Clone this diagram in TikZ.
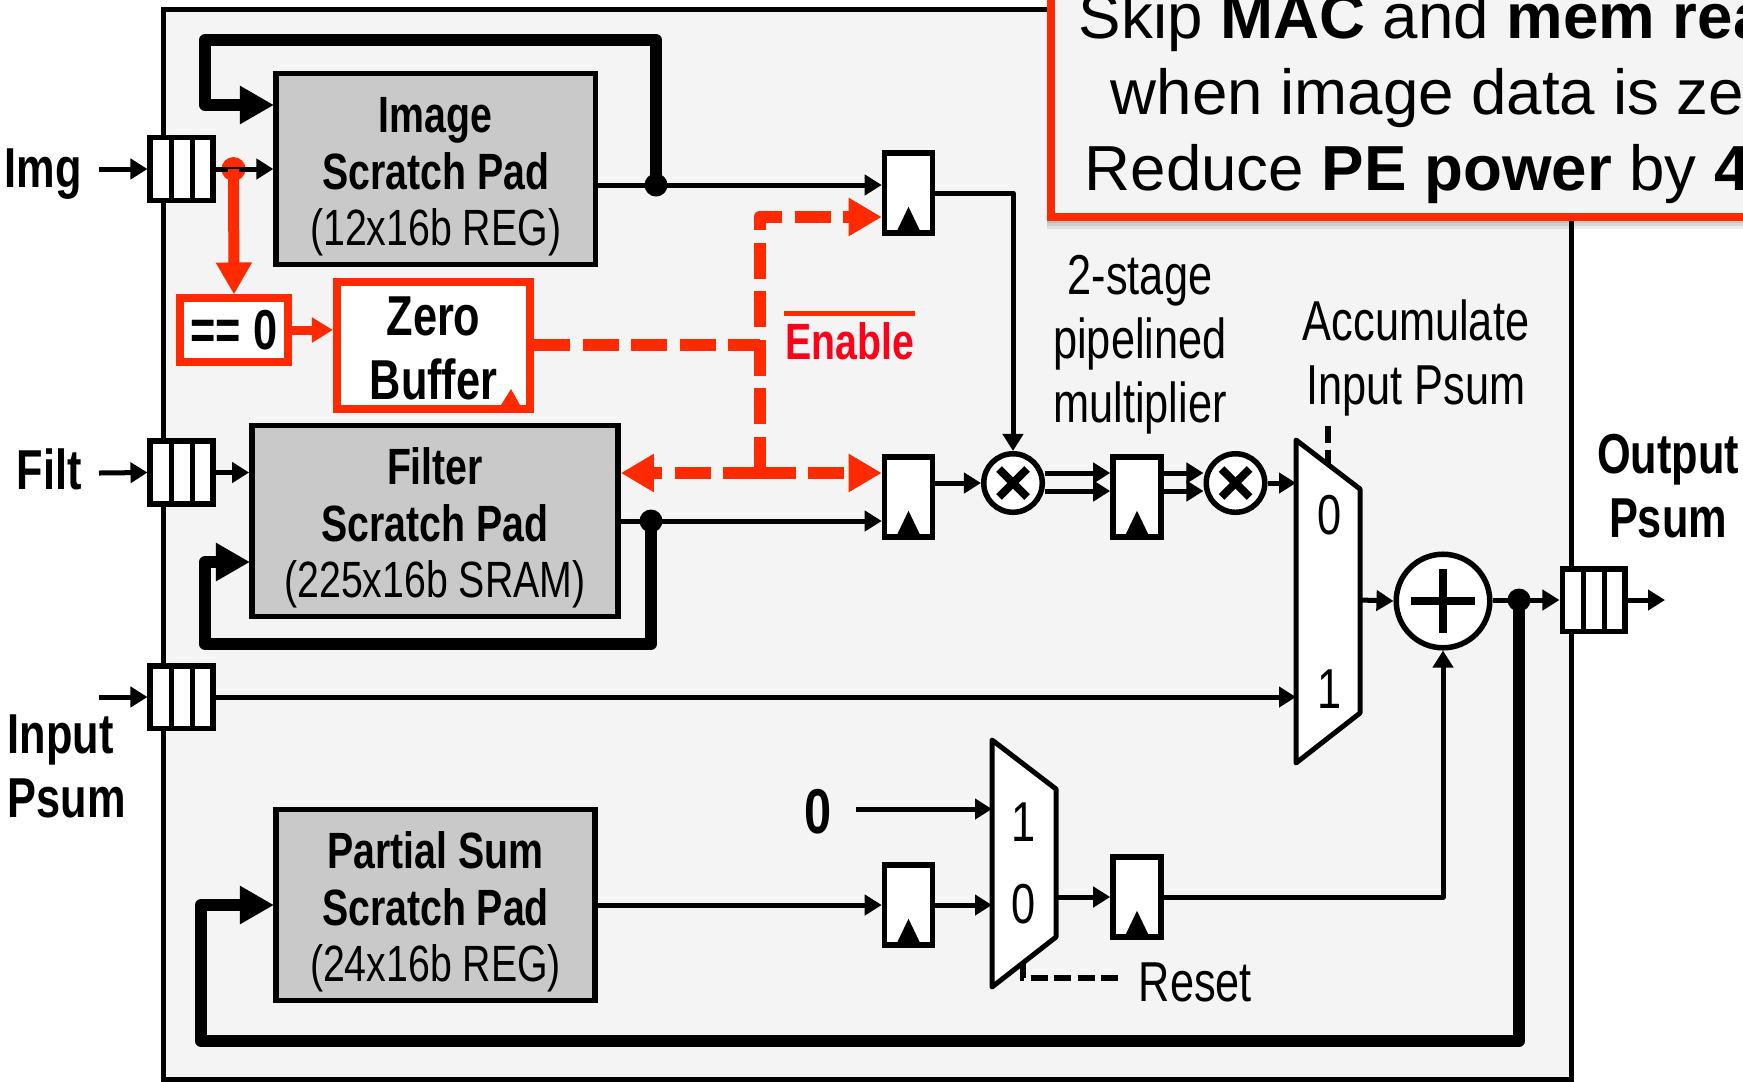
\documentclass[tikz,border=0pt]{standalone}
\usepackage{fontspec}
\setmainfont[FakeStretch=0.77]{Liberation Sans}
\newfontfamily\calloutfont{Liberation Sans}
\usepackage{xcolor}
\usetikzlibrary{arrows.meta, positioning, calc}

\definecolor{panelgray}{HTML}{F4F4F4}
\definecolor{boxgray}{HTML}{C9C9C9}
\definecolor{hotred}{HTML}{FF2A00}
\definecolor{enablered}{HTML}{FF0018}
\newcommand{\padtop}{\rule{0pt}{.51cm}}

\tikzset{
  labeltext/.style={inner sep=0pt, font=\fontsize{16}{18.2}\selectfont, align=center},
  padbox/.style={draw, line width=.055cm, fill=boxgray, align=center, inner sep=0pt,
    minimum height=1.91cm, font=\fontsize{14.5}{16}\selectfont},
  fifobox/.style={draw, line width=.055cm, fill=white, minimum width=.625cm, minimum height=.625cm, inner sep=0pt},
  regbox/.style={draw, line width=.055cm, fill=white, minimum width=.48cm, minimum height=.8cm, inner sep=0pt},
  opnode/.style={draw, circle, line width=.055cm, fill=white, inner sep=0pt},
  joint/.style={circle, fill=black, minimum size=.23cm, inner sep=0pt},
  wire/.style={line width=.05cm, line join=round, -{Triangle[length=.17cm,width=.2cm]}},
  busline/.style={line width=.12cm, line join=round, -{Triangle[length=.34cm,width=.36cm]}},
  redwire/.style={hotred, line width=.11cm, -{Triangle[length=.32cm,width=.34cm]}},
  ctrl/.style={hotred, line width=.12cm, dash pattern=on .36cm off .125cm, line join=round},
  ctrltip/.style={-{Triangle[length=.33cm,width=.36cm]}},
  sel/.style={line width=.055cm, dash pattern=on .17cm off .065cm},
  muxshape/.style={draw, line width=.05cm, fill=white, line join=round}
}

\begin{document}
\begin{tikzpicture}[x=.01cm, y=-.01cm]
  \clip (0,0) rectangle (1743,1081);
  % panel
  \draw[line width=.05cm, fill=panelgray] (163,9) rectangle (1571,1079);

  % scratch pads
  \node[padbox, minimum width=3.19cm] (imgPad) at (435.7,169) {\padtop\textbf{Image}\\\textbf{Scratch Pad}\\(12x16b REG)};
  \node[padbox, minimum width=3.66cm] (filtPad) at (435,521) {\padtop\textbf{Filter}\\\textbf{Scratch Pad}\\(225x16b SRAM)};
  \node[padbox, minimum width=3.19cm] (psumPad) at (435.5,905) {\padtop\textbf{Partial Sum}\\\textbf{Scratch Pad}\\(24x16b REG)};

  % fifos
  \node[fifobox] (fifoImg) at (181.5,169) {};
  \node[fifobox] (fifoFilt) at (181.5,472.5) {};
  \node[fifobox] (fifoIn) at (181.5,697) {};
  \node[fifobox] (fifoOut) at (1593.5,600) {};
  \foreach \fname in {fifoImg,fifoFilt,fifoIn,fifoOut} {
    \draw[line width=.05cm] ($(\fname.north)+(-10.5,0)$) -- ($(\fname.south)+(-10.5,0)$);
    \draw[line width=.05cm] ($(\fname.north)+(10.5,0)$) -- ($(\fname.south)+(10.5,0)$);
  }

  % registers
  \node[regbox] (regA) at (908.5,193) {};
  \node[regbox] (regB) at (908.5,497) {};
  \node[regbox] (regC) at (908.5,905) {};
  \node[regbox] (regD) at (1137,897) {};
  \node[regbox] (regE) at (1137,497) {};
  \foreach \rname in {regA,regB,regC,regD,regE}
    \fill ($(\rname.south)+(-11.5,-5)$) -- ($(\rname.south)+(11.5,-5)$) -- ($(\rname.south)+(0,-29)$) -- cycle;

  % muxes
  \coordinate (muxAtl) at (1296,440);
  \coordinate (muxAout) at (1360,600);
  \coordinate (muxBtl) at (992,740);
  \coordinate (muxBout) at (1056,897);
  \draw[sel] (1328,426) -- (1328,466);
  \draw[muxshape] (muxAtl) -- (1360,489) -- (1360,713) -- (1296,763) -- cycle;
  \draw[muxshape] (muxBtl) -- (1056,789) -- (1056,937) -- (992,987) -- cycle;
  \node[labeltext] (muxAzero) at (1329.5,515) {0};
  \node[labeltext] (muxAone) at (1329.5,689) {1};
  \node[labeltext] (muxBone) at (1024,822) {1};
  \node[labeltext] (muxBzero) at (1024,904) {0};

  % ops
  \node[opnode, minimum size=.585cm] (mulA) at (1013,483) {};
  \node[opnode, minimum size=.585cm] (mulB) at (1235.5,483) {};
  \node[opnode, minimum size=.935cm] (adder) at (1443,601) {};
  \foreach \mname in {mulA,mulB} {
    \draw[line width=.08cm] ($(\mname)+(-14,-14)$) -- ($(\mname)+(14,14)$);
    \draw[line width=.08cm] ($(\mname)+(-14,14)$) -- ($(\mname)+(14,-14)$);
  }
  \draw[line width=.08cm] ($(adder)+(-32,0)$) -- ($(adder)+(32,0)$);
  \draw[line width=.08cm] ($(adder)+(0,-32)$) -- ($(adder)+(0,32)$);

  % joints
  \node[joint] (dotImg) at (656,185) {};
  \node[joint] (dotFilt) at (651,521) {};
  \node[joint] (dotOut) at (1519,600) {};
  \node[joint, fill=hotred, minimum size=.24cm] (dotRed) at (233.5,169) {};

  % zero logic
  \node[draw=hotred, line width=.08cm, fill=white, minimum width=1.07cm, minimum height=.63cm, inner sep=0pt,
    font=\fontsize{16}{18}\selectfont\bfseries] (zeroTest) at (234,330) {== 0};
  \node[draw=hotred, line width=.08cm, fill=white, minimum width=1.93cm, minimum height=1.27cm, inner sep=0pt, align=center,
    font=\fontsize{16}{18.2}\selectfont\bfseries] (zeroBuf) at (433.5,345.5) {\rule{0pt}{.45cm}Zero\\Buffer};
  \fill[hotred] (501,405) -- (520,405) -- (511,389) -- cycle;

  % inputs
  \coordinate (inImg) at (99,169);
  \coordinate (inFilt) at (99,473);
  \coordinate (inPsum) at (99,697);
  \coordinate (outEnd) at (1665,600);
  \draw[wire] (inImg) -- (fifoImg.west);
  \draw[wire] (inFilt) -- (fifoFilt.west);
  \draw[wire] (inPsum) -- (fifoIn.west);
  \draw[wire] (fifoImg.east) -- (imgPad.west);
  \draw[wire] (fifoFilt.east) -- (filtPad.west |- fifoFilt.east);
  \draw[wire] (fifoIn.east) -- (fifoIn.east -| muxAtl);
  \draw[wire] (fifoOut.east) -- (outEnd);

  % data path
  \draw[wire] (imgPad.east |- dotImg) -- (regA.west |- dotImg);
  \draw[wire] (filtPad.east) -- (regB.west |- filtPad.east);
  \draw[wire] (regA.east) -| (mulA.north);
  \draw[wire] (regB.east |- mulA) -- (mulA.west);
  \draw[wire] ($(mulA.east)+(0,-10)$) -- (regE.west |- 0,473);
  \draw[wire] ($(mulA.east)+(0,8)$) -- (regE.west |- 0,491);
  \draw[wire] (regE.east |- 0,473) -- ($(mulB.west)+(0,-10)$);
  \draw[wire] (regE.east |- 0,491) -- ($(mulB.west)+(0,8)$);
  \draw[wire] (mulB.east) -- (mulB.east -| muxAtl);
  \draw[wire] (muxAout) -- (adder.west);
  \draw[wire] (adder.east |- fifoOut) -- (fifoOut.west);
  \draw[wire] (psumPad.east) -- (regC.west);
  \draw[wire] (regC.east) -- (regC.east -| muxBtl);
  \draw[wire] (muxBout) -- (regD.west);
  \draw[wire] (regD.east) -| (adder.south);

  % zero node, constant
  \node[inner sep=0pt, font=\fontsize{18}{20}\selectfont\bfseries] (constZero) at (818,812) {0};
  \coordinate (constStart) at (856,809);
  \draw[wire] (constStart) -- (constStart -| muxBtl);

  % feedback buses
  \coordinate (imgLoopTL) at (205,40);
  \coordinate (imgLoopIn) at (274,105);
  \coordinate (filtLoopBL) at (205,644);
  \coordinate (filtLoopIn) at (250,562);
  \coordinate (psumLoopBL) at (201,1041);
  \coordinate (psumLoopIn) at (274,905);
  \draw[busline] (dotImg.center) |- (imgLoopTL) |- (imgLoopIn);
  \draw[busline] (dotFilt.center) |- (filtLoopBL) |- (filtLoopIn);
  \draw[busline] (dotOut.center) |- (psumLoopBL) |- (psumLoopIn);

  % zero skip control
  \coordinate (ctrlTop) at (759.5,217);
  \coordinate (ctrlMid) at (759.5,345);
  \coordinate (ctrlBot) at (759.5,473);
  \draw[redwire] (dotRed.center) -- (zeroTest.north);
  \draw[hotred, line width=.09cm, -{Triangle[length=.21cm,width=.24cm]}] (zeroTest.east) -- (zeroBuf.west |- zeroTest.east);
  \draw[ctrl] (zeroBuf.east |- ctrlMid) -- (ctrlMid);
  \draw[ctrl, ctrltip] (ctrlBot) -- (ctrlTop) -- (regA.west |- ctrlTop);
  \draw[ctrl, ctrltip] (ctrlBot) -- (regB.west |- ctrlBot);
  \draw[ctrl, ctrltip] (ctrlBot) -- (filtPad.east |- ctrlBot);
  \node[inner sep=0pt, text=enablered, font=\fontsize{14.5}{16.4}\selectfont\bfseries] (enable) at (850,341) {Enable};
  \coordinate (barL) at (784,313);
  \coordinate (barR) at (915,313);
  \draw[hotred, line width=.05cm] (barL) -- (barR);

  % reset
  \coordinate (resetTop) at (1023,962);
  \coordinate (resetEnd) at (1119,978);
  \node[labeltext, anchor=west] (resetLabel) at (1138,982) {Reset};
  \draw[sel] (resetTop) |- (resetEnd);

  % labels
  \node[labeltext] (pipeLabel) at (1140,345) {2-stage\\pipelined\\multiplier};
  \node[labeltext] (accLabel) at (1416,358) {Accumulate\\Input Psum};
  \node[labeltext, anchor=west, font=\fontsize{16}{18.2}\selectfont\bfseries] (imgLabel) at (4,174) {Img};
  \node[labeltext, anchor=west, font=\fontsize{16}{18.2}\selectfont\bfseries] (filtLabel) at (16,469) {Filt};
  \node[labeltext, anchor=west, font=\fontsize{16}{18.2}\selectfont\bfseries, align=left] (inLabel) at (7,766) {Input\\Psum};
  \node[labeltext, font=\fontsize{16}{18.2}\selectfont\bfseries] (outLabel) at (1668,486) {Output\\Psum};

  % callout
  \foreach \s in {3,6,9}
    \fill[black, opacity=.08] (1047,-20) rectangle (1800,220+\s);
  \draw[hotred, line width=.075cm, fill=panelgray] (1051,-20) rectangle (1800,217);
  \tikzset{calltext/.style={anchor=base west, inner sep=0pt, font=\calloutfont\fontsize{18.1}{20}\selectfont}}
  \node[calltext] (skipLine) at (1078,38.5) {Skip \textbf{MAC} and \textbf{mem rea}};
  \node[calltext] (whenLine) at (1110,114) {when image data is ze};
  \node[calltext] (powerLine) at (1084,190) {Reduce \textbf{PE power} by \textbf{4}};
\end{tikzpicture}
\end{document}
